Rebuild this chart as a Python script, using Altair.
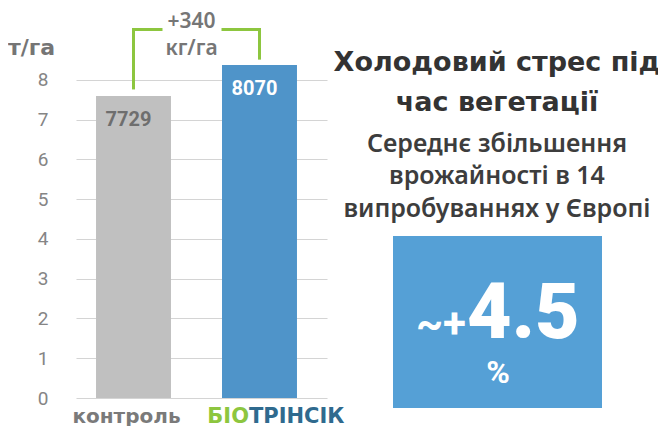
import altair as alt
import pandas as pd

# ---- data ----
categories = ["контроль", "БІОТРІНСІК"]
bar_heights = [7.6, 8.38]          # bar tops as drawn (т/га)
bar_labels = ["7729", "8070"]      # value labels shown on bars (кг/га)
bar_colors = ["#c0c0c0", "#4f94c9"]
label_colors = ["#6e6e6e", "#ffffff"]
y_ticks = [0, 1, 2, 3, 4, 5, 6, 7, 8]

bracket_bottoms = [7.8, 8.55]      # lower ends of the green bracket legs
bracket_top = 9.27

diff_lines = ["+340", "кг/га"]
title_lines = ["Холодовий стрес під", "час вегетації"]
subtitle_lines = ["Середнє збільшення", "врожайності в 14", "випробуваннях у Європі"]
big_prefix = "~+"
big_value = "4.5"
big_unit = "%"

GREEN = "#8dc63f"
DARK_BLUE = "#2f6a8e"
BOX_BLUE = "#55a0d6"

bars_df = pd.DataFrame({
    "cat": categories,
    "val": bar_heights,
    "lab": bar_labels,
    "lc": label_colors,
})
bracket_df = pd.DataFrame({
    "cat": categories,
    "y1": bracket_bottoms,
    "y2": [bracket_top, bracket_top],
})

W, H = 251, 390
xscale = alt.Scale(domain=categories, paddingInner=0.405, paddingOuter=0.1986, align=0.4)
yscale = alt.Scale(domain=[0, 9.811], nice=False, zero=True)

base = alt.Chart(bars_df)

bars = base.mark_bar().encode(
    x=alt.X("cat:N", sort=categories, scale=xscale, axis=None),
    y=alt.Y("val:Q", scale=yscale,
            axis=alt.Axis(values=y_ticks, grid=True, gridColor="#d4d4d4", gridWidth=1.2,
                          domain=False, ticks=False, labelPadding=28,
                          labelFont="Roboto", labelFontSize=19, labelColor="#858585",
                          title=None)),
    color=alt.Color("cat:N", scale=alt.Scale(domain=categories, range=bar_colors), legend=None),
)

bar_text = base.mark_text(align="left", baseline="alphabetic", dx=-28, dy=30,
                          font="Roboto", fontSize=20, fontWeight="bold").encode(
    x=alt.X("cat:N", sort=categories, scale=xscale),
    y=alt.Y("val:Q", scale=yscale),
    text="lab:N",
    color=alt.Color("lc:N", scale=None),
)

legs = alt.Chart(bracket_df).mark_rule(color=GREEN, strokeWidth=3, strokeCap="square").encode(
    x=alt.X("cat:N", sort=categories, scale=xscale),
    y=alt.Y("y1:Q", scale=yscale),
    y2="y2:Q",
)

one = pd.DataFrame({"k": [0]})

def rule_h(x1, x2):
    return alt.Chart(one).mark_rule(color=GREEN, strokeWidth=3, strokeCap="square").encode(
        x=alt.value(x1), x2=alt.value(x2), y=alt.datum(bracket_top, scale=yscale))

def txt(s, x, y, size, color, weight="normal", font="DejaVu Sans", align="center"):
    return alt.Chart(one).mark_text(align=align, baseline="alphabetic", font=font,
                                    fontSize=size, fontWeight=weight, color=color).encode(
        x=alt.value(x), y=alt.value(y), text=alt.value(s))

layers = [bars, legs, rule_h(57.5, 85), rule_h(147, 183.5), bar_text]

# difference annotation
layers.append(txt(diff_lines[0], 115.5, 20, 21, "#767676", weight=600, font="Noto Sans"))
layers.append(txt(diff_lines[1], 115.5, 47, 21, "#767676", weight=600, font="Noto Sans"))

# unit label
layers.append(txt("т/га", -44.5, 47, 22, "#757575", weight="bold"))

# category labels
layers.append(txt(categories[0], 50.5, 415, 20, "#7a7a7a", weight="bold"))
layers.append(txt("БІО", 173, 415, 21, GREEN, weight="bold", align="right"))
layers.append(txt("ТРІНСІК", 173, 415, 21, DARK_BLUE, weight="bold", align="left"))

# right-hand text block
cx = 421
layers.append(txt(title_lines[0], cx, 63, 27, "#333333", weight="bold"))
layers.append(txt(title_lines[1], cx, 103, 27, "#333333", weight="bold"))
layers.append(txt(subtitle_lines[0], cx, 144, 25, "#3d3d3d", weight=600, font="Noto Sans"))
layers.append(txt(subtitle_lines[1], cx, 176, 25, "#3d3d3d", weight=600, font="Noto Sans"))
layers.append(txt(subtitle_lines[2], cx, 209, 25, "#3d3d3d", weight=600, font="Noto Sans"))

box = alt.Chart(one).mark_rect(color=BOX_BLUE).encode(
    x=alt.value(317), x2=alt.value(526), y=alt.value(228), y2=alt.value(400))
layers.append(box)
layers.append(txt(big_prefix, 390, 330, 42, "#ffffff", weight="bold", font="Roboto", align="right"))
layers.append(txt(big_value, 391, 330, 77, "#ffffff", weight=900, font="Roboto", align="left"))
layers.append(txt(big_unit, 422, 375, 32, "#ffffff", weight="bold", font="Roboto"))

chart = alt.layer(*layers).properties(
    width=W, height=H,
    autosize=alt.AutoSizeParams(type="none"),
    padding={"left": 68, "top": 0, "right": 331, "bottom": 28},
).configure_view(stroke=None)

chart.save("out.html", embed_options={"renderer": "svg", "actions": False})
